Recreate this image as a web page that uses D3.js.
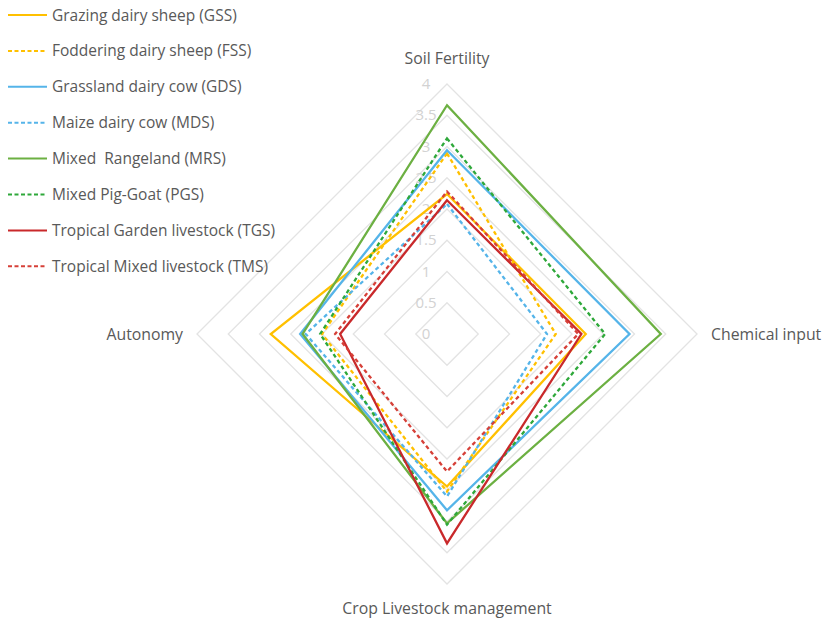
<!DOCTYPE html>
<html>
<head>
<meta charset="utf-8">
<script src="https://cdn.jsdelivr.net/npm/d3@7"></script>
<style>
  body { margin: 0; background: #fff; }
  text { font-family: "Open Sans", "Noto Sans", sans-serif; white-space: pre; }
</style>
</head>
<body>
<svg width="826" height="623"></svg>
<script>
// axes, clockwise from top
const axes = ["Soil Fertility", "Chemical input", "Crop Livestock management", "Autonomy"];
const ticks = [0, 0.5, 1, 1.5, 2, 2.5, 3, 3.5, 4];

const seriesNames = [
  "Grazing dairy sheep (GSS)",
  "Foddering dairy sheep (FSS)",
  "Grassland dairy cow (GDS)",
  "Maize dairy cow (MDS)",
  "Mixed  Rangeland (MRS)",
  "Mixed Pig-Goat (PGS)",
  "Tropical Garden livestock (TGS)",
  "Tropical Mixed livestock (TMS)"
];
const seriesColors = ["#ffc000", "#ffc000", "#55b4e9", "#55b4e9", "#6cb042", "#2ea83a", "#c9292b", "#d64038"];
const seriesDashed = [false, true, false, true, false, true, false, true];

// values per series: Soil Fertility, Chemical input, Crop Livestock management, Autonomy
const gss = [2.24, 2.22, 2.44, 2.82];
const fss = [2.89, 1.74, 2.52, 2.0];
const gds = [2.94, 2.92, 2.82, 2.35];
const mds = [2.08, 1.60, 2.60, 2.26];
const mrs = [3.66, 3.42, 3.03, 2.31];
const pgs = [3.13, 2.53, 3.05, 2.03];
const tgs = [2.14, 2.15, 3.35, 1.71];
const tms = [2.28, 2.10, 2.20, 1.79];
const seriesValues = [gss, fss, gds, mds, mrs, pgs, tgs, tms];

const svg = d3.select("svg");
const cx = 447, cy = 334;

const r = d3.scaleLinear().domain([0, 4]).range([0, 250]);
const angle = d3.scaleBand().domain(axes).range([0, 2 * Math.PI]);

function pt(axisName, v) {
  const a = angle(axisName) - Math.PI / 2;
  return [cx + r(v) * Math.cos(a), cy + r(v) * Math.sin(a)];
}

const line = d3.line().x(d => d[0]).y(d => d[1]).curve(d3.curveLinearClosed);

// grid diamonds
svg.append("g").attr("class", "grid")
  .selectAll("path")
  .data(ticks.filter(t => t > 0))
  .enter()
  .append("path")
  .attr("d", t => line(axes.map(a => pt(a, t))))
  .attr("fill", "none")
  .attr("stroke", "#e3e3e3")
  .attr("stroke-width", 1.3);

// tick labels
svg.append("g").attr("class", "ticks")
  .selectAll("text")
  .data(ticks)
  .enter()
  .append("text")
  .attr("x", cx - 21)
  .attr("y", t => cy - r(t) + 5)
  .attr("text-anchor", "middle")
  .attr("font-size", 15)
  .attr("fill", "#d2d2d2")
  .text(t => t);

// series
svg.append("g").attr("class", "series")
  .selectAll("path")
  .data(seriesValues)
  .enter()
  .append("path")
  .attr("d", vals => line(axes.map((a, i) => pt(a, vals[i]))))
  .attr("fill", "none")
  .attr("stroke", (d, i) => seriesColors[i])
  .attr("stroke-width", 2.3)
  .attr("stroke-linejoin", "miter")
  .attr("stroke-dasharray", (d, i) => seriesDashed[i] ? "4,3" : null);

// axis labels
const labelPos = [
  { x: cx, y: 64, anchor: "middle" },
  { x: 711, y: cy + 6, anchor: "start" },
  { x: cx, y: 614, anchor: "middle" },
  { x: 183, y: cy + 6, anchor: "end" }
];
svg.append("g").attr("class", "axisLabels")
  .selectAll("text")
  .data(axes)
  .enter()
  .append("text")
  .attr("x", (d, i) => labelPos[i].x)
  .attr("y", (d, i) => labelPos[i].y)
  .attr("text-anchor", (d, i) => labelPos[i].anchor)
  .attr("font-size", 15.8)
  .attr("fill", "#595959")
  .text(d => d);

// legend
const legend = svg.append("g").attr("class", "legend")
  .selectAll("g")
  .data(seriesNames)
  .enter()
  .append("g")
  .attr("transform", (d, i) => `translate(8, ${15 + i * 35.9})`);

legend.append("line")
  .attr("x1", 0).attr("x2", 39)
  .attr("stroke", (d, i) => seriesColors[i])
  .attr("stroke-width", 2)
  .attr("stroke-dasharray", (d, i) => seriesDashed[i] ? "4,2.5" : null);

legend.append("text")
  .attr("x", 44)
  .attr("y", 5.5)
  .attr("font-size", 15.5)
  .attr("fill", "#595959")
  .text(d => d);
</script>
</body>
</html>
